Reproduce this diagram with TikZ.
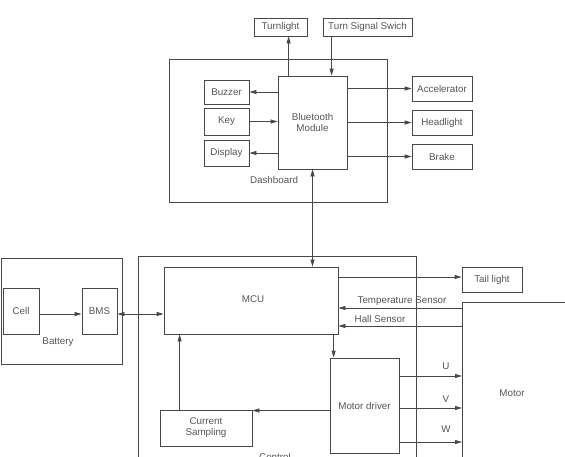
\documentclass[tikz,border=0pt]{standalone}
\usepackage{fontspec}
\setmainfont{Liberation Sans}
\usepackage{xcolor}
\usetikzlibrary{arrows.meta, calc}
\definecolor{ink}{HTML}{474747}
\definecolor{txt}{HTML}{555555}
\tikzset{
  box/.style={draw=ink, line width=0.8pt, text=txt, align=center, inner sep=1pt},
  frame/.style={draw=ink, line width=0.8pt},
  wire/.style={draw=ink, line width=0.8pt, -{Triangle[length=7pt,width=4pt]}},
  wire2/.style={draw=ink, line width=0.8pt, {Triangle[length=7pt,width=4pt]}-{Triangle[length=7pt,width=4pt]}},
  lbl/.style={text=txt, inner sep=0pt}
}
\begin{document}
\begin{tikzpicture}[x=1pt, y=-1pt, font=\fontsize{9.8}{11}\selectfont]

\useasboundingbox (0,0) rectangle (565,456);

%-- frames
\draw[frame] (169,59) rectangle (387,202);
\draw[frame] (1,258) rectangle (122,364);
\draw[frame] (138,256) rectangle (416,470);
\node[lbl] (dashlbl) at (274,180) {Dashboard};
\node[lbl] (batlbl)  at (58,342)  {Battery};
\node[lbl] (ctrllbl) at (275,457) {Control};

%-- dashboard
\node[box, minimum width=69pt, minimum height=93pt] (bt) at (312.5,122.5) {Bluetooth\\Module};
\node[box, minimum width=53pt, minimum height=18pt] (turn) at (280.5,27) {Turnlight};
\node[box, minimum width=89pt, minimum height=18pt] (tss)  at (367.5,27) {Turn Signal Swich};
\node[box, minimum width=45pt, minimum height=24pt] (buzz) at (226.5,92)  {Buzzer};
\node[box, minimum width=45pt, minimum height=27pt] (key)  at (226.5,121.5) {Key};
\node[box, minimum width=45pt, minimum height=26pt] (disp) at (226.5,153) {Display};
\node[box, minimum width=60pt, minimum height=25pt] (acc)  at (442,88.5)  {Accelerator};
\node[box, minimum width=60pt, minimum height=25pt] (head) at (442,122.5) {Headlight};
\node[box, minimum width=60pt, minimum height=25pt] (brk)  at (442,156.5) {Brake};

\draw[wire] ([xshift=11pt]bt.north west) -- ([xshift=11pt]bt.north west |- turn.south);
\draw[wire] ([xshift=9pt]tss.south west) -- ([xshift=9pt]tss.south west |- bt.north);
\draw[wire] (bt.west |- buzz) -- (buzz.east);
\draw[wire] (key.east) -- (bt.west |- key);
\draw[wire] (bt.west |- disp) -- (disp.east);
\foreach \t in {acc,head,brk}
  \draw[wire] (bt.east |- \t) -- (\t.west);

%-- battery
\node[box, minimum width=36pt, minimum height=46pt] (cell) at (21,311) {Cell};
\node[box, minimum width=35pt, minimum height=46pt] (bms)  at (99.5,311) {BMS};
\draw[wire] ([yshift=-3pt]cell.east) -- ([yshift=-3pt]bms.west);

%-- control
\node[box, minimum width=174pt, minimum height=67pt] (mcu) at (251,300.5) {};
\node[lbl] (mcutxt) at (253,299) {MCU};
\node[box, minimum width=69pt, minimum height=95pt] (drv) at (364.5,405.5) {Motor driver};
\node[box, minimum width=92pt, minimum height=36pt] (cs)  at (206,428) {Current\\Sampling};
\node[box, minimum width=60pt, minimum height=25pt] (tail) at (492,279.5) {Tail light};

\draw[wire2] (bt.south) -- (bt.south |- mcu.north);
\draw[wire2] ([yshift=-3pt]bms.east) -- ([yshift=-3pt]bms.east -| mcu.west);
\draw[wire] ([yshift=2.5pt]mcu.east |- tail) -- ([yshift=2.5pt]tail.west);
\draw[wire] ([xshift=4pt]drv.north west |- mcu.south) -- ([xshift=4pt]drv.north west);
\draw[wire] ([yshift=-5pt]drv.west) -- ([yshift=-5pt]drv.west -| cs.east);
\draw[wire] ([xshift=20pt]cs.north west) -- ([xshift=20pt]cs.north west |- mcu.south);

%-- motor
\coordinate (mtop) at (462,302);
\draw[frame] (570,302) -- (mtop) -- (462,470);
\node[lbl] (motlbl) at (512,393) {Motor};

\coordinate (tsens) at (462,308);
\coordinate (hsens) at (462,326);
\draw[wire] (tsens) -- (tsens -| mcu.east);
\draw[wire] (hsens) -- (hsens -| mcu.east);
\node[lbl, anchor=south] (tslbl) at (402,306) {Temperature Sensor};
\node[lbl, anchor=south] (hslbl) at (380,323) {Hall Sensor};

\foreach \ph/\yy/\ly in {U/376/366,V/408/399,W/442/429} {
  \coordinate (ph\ph) at (462,\yy);
  \draw[wire] (drv.east |- ph\ph) -- (ph\ph);
  \node[lbl] at (446,\ly) {\ph};
}

\end{tikzpicture}
\end{document}
